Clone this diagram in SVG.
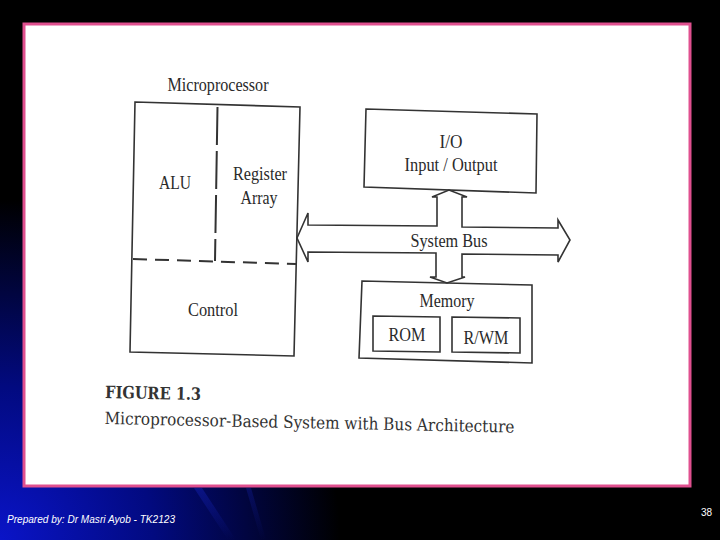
<svg xmlns="http://www.w3.org/2000/svg" width="720" height="540" viewBox="0 0 720 540">
<defs>
<radialGradient id="bg" cx="0" cy="540" r="340" gradientUnits="userSpaceOnUse">
<stop offset="0" stop-color="#0a14c8"/>
<stop offset="0.45" stop-color="#020a80"/>
<stop offset="1" stop-color="#000000"/>
</radialGradient>
<linearGradient id="streak" x1="0" y1="0" x2="0" y2="1">
<stop offset="0" stop-color="#1a2ad0" stop-opacity="0.7"/>
<stop offset="1" stop-color="#1a2ad0" stop-opacity="0"/>
</linearGradient>
<style>
.ln{fill:none;stroke:#333;stroke-width:1.6}
.bx{fill:#fff;stroke:#333;stroke-width:1.6}
.dash{fill:none;stroke:#333;stroke-width:2;stroke-dasharray:14 8}
.vdash{fill:none;stroke:#333;stroke-width:2;stroke-dasharray:38 6}
.t{font-family:"Liberation Serif","Times New Roman",serif;font-size:18px;fill:#2a2a2a;text-anchor:middle}
.cap{font-family:"DejaVu Serif","Liberation Serif",serif;fill:#333}
.foot{font-family:"Liberation Sans",Arial,sans-serif;font-size:10px;font-style:italic;fill:#fff}
</style>
</defs>
<rect width="720" height="540" fill="#000"/>
<rect width="720" height="540" fill="url(#bg)"/>
<path d="M194 488 L202 488 L236 540 L228 540 Z" fill="url(#streak)" opacity="0.5"/>
<path d="M246 488 L251 488 L266 540 L261 540 Z" fill="url(#streak)" opacity="0.35"/>
<rect x="24" y="24" width="666" height="462" fill="#fff" stroke="#e0508f" stroke-width="3"/>

<g id="microprocessor">
<text class="t" x="218" y="91" textLength="101" lengthAdjust="spacingAndGlyphs">Microprocessor</text>
<polygon class="bx" points="135,102 300,107 294,356 130,352"/>
<line class="vdash" x1="217.5" y1="107" x2="215" y2="261"/>
<line class="dash" x1="133" y1="259" x2="296" y2="264"/>
<text class="t" x="175" y="189" textLength="32" lengthAdjust="spacingAndGlyphs">ALU</text>
<text class="t" x="260" y="180" textLength="54" lengthAdjust="spacingAndGlyphs">Register</text>
<text class="t" x="259" y="204" textLength="37" lengthAdjust="spacingAndGlyphs">Array</text>
<text class="t" x="213" y="316" textLength="50" lengthAdjust="spacingAndGlyphs">Control</text>
</g>

<g id="io">
<polygon class="bx" points="366,109 537,114 536,193 364,187"/>
<text class="t" x="451" y="148" textLength="23" lengthAdjust="spacingAndGlyphs">I/O</text>
<text class="t" x="451" y="171" textLength="93" lengthAdjust="spacingAndGlyphs">Input / Output</text>
</g>

<g id="memory">
<polygon class="bx" points="362,281 532,285 532,363 359,358"/>
<text class="t" x="447" y="307" textLength="55" lengthAdjust="spacingAndGlyphs">Memory</text>
<polygon class="bx" points="373,316 440,317 440,352 373,351"/>
<text class="t" x="407" y="341" textLength="37" lengthAdjust="spacingAndGlyphs">ROM</text>
<polygon class="bx" points="452,317 520,318 520,353 452,352"/>
<text class="t" x="486" y="344" textLength="45" lengthAdjust="spacingAndGlyphs">R/WM</text>
</g>

<g id="connectors">
<path class="ln" d="M297,238 L308,213 L308,225 L437,226 L437,197 L432,197 L449,190 L467,197 L462,197 L462,227 L558,228 L558,220 L570,240 L558,262 L558,255 L462,254 L462,277 L465,277 L447,283 L430,277 L436,277 L436,253 L308,252 L308,262 Z" style="fill:#fff"/>
<text class="t" x="449" y="247" textLength="77" lengthAdjust="spacingAndGlyphs">System Bus</text>
</g>

<g id="caption" transform="rotate(1.2 105 400)">
<text class="cap" x="105" y="398" font-size="17" font-weight="bold" textLength="96" lengthAdjust="spacingAndGlyphs">FIGURE 1.3</text>
<text class="cap" x="105" y="424" font-size="17" textLength="410" lengthAdjust="spacingAndGlyphs">Microprocessor-Based System with Bus Architecture</text>
</g>

<text class="foot" x="7" y="523" textLength="168" lengthAdjust="spacingAndGlyphs">Prepared by: Dr Masri Ayob - TK2123</text>
<text class="foot" x="701" y="516" style="font-style:normal">38</text>
</svg>
